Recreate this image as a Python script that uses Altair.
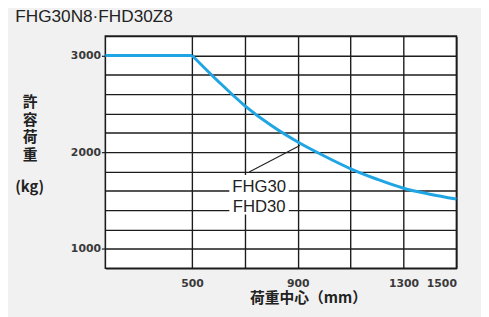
import altair as alt
import pandas as pd

# ---- data ----
DIST_FLAT = [172, 500]
LOAD_FLAT = [3000, 3000]
DIST = [500, 600, 700, 800, 900, 1000, 1100, 1200, 1300, 1400, 1500]
LOAD = [3000, 2730, 2480, 2275, 2105, 1960, 1828, 1720, 1627, 1565, 1515]

X_GRID = [500, 700, 900, 1100, 1300, 1500]
X_LABELS = [500, 900, 1300, 1500]
Y_GRID = [800, 1000, 1200, 1400, 1600, 1800, 2000, 2200, 2400, 2600, 2800, 3000, 3200]
Y_LABELS = [1000, 2000, 3000]

LABEL_TEXT = ["FHG30", "FHD30"]
LABEL_X = [754, 754]
LABEL_Y = [1592, 1378]
LEADER_X = [716, 908]
LEADER_Y = [1796, 2068]
BOX_X = [641, 866]
BOX_Y = [1356, 1763]

UNIT_TEXT = ["(kg)"]

X_DOMAIN = [172, 1500]
Y_DOMAIN = [800, 3200]

flat_df = pd.DataFrame({"d": DIST_FLAT, "w": LOAD_FLAT})
curve_df = pd.DataFrame({"d": DIST, "w": LOAD})
label_df = pd.DataFrame({"t": LABEL_TEXT, "d": LABEL_X, "w": LABEL_Y})
leader_df = pd.DataFrame({"d": LEADER_X, "w": LEADER_Y})
box_df = pd.DataFrame({"d": [BOX_X[0]], "d2": [BOX_X[1]], "w": [BOX_Y[0]], "w2": [BOX_Y[1]]})
unit_df = pd.DataFrame({"t": UNIT_TEXT})

xlabel_expr = "indexof([" + ",".join(str(v) for v in X_LABELS) + "], datum.value) >= 0 ? datum.value : ''"
ylabel_expr = "indexof([" + ",".join(str(v) for v in Y_LABELS) + "], datum.value) >= 0 ? datum.value : ''"

LINE_COLOR = "#1c1c1c"
CURVE_COLOR = "#1fa5e3"

x_scale = alt.Scale(domain=X_DOMAIN, nice=False, zero=False)
y_scale = alt.Scale(domain=Y_DOMAIN, nice=False, zero=False)

x_axis = alt.Axis(
    values=X_GRID,
    labelExpr=xlabel_expr,
    grid=True,
    gridColor=LINE_COLOR,
    gridWidth=1.4,
    gridOpacity=1,
    ticks=False,
    tickSize=0,
    domain=False,
    labelPadding=10,
    labelFont="DejaVu Sans",
    labelFontSize=11,
    labelFontWeight="bold",
    labelColor="#3a3a3a",
    labelOverlap=False,
    title="荷重中心（mm）",
    titleFont="Noto Sans CJK JP",
    titleFontSize=15,
    titleFontWeight="bold",
    titleColor="#222222",
    titleX=206,
    titleY=30,
    titleBaseline="middle",
    titleAnchor="start",
    titleAlign="center",
)

y_axis = alt.Axis(
    values=Y_GRID,
    labelExpr=ylabel_expr,
    grid=True,
    gridColor=LINE_COLOR,
    gridWidth=1.4,
    gridOpacity=1,
    ticks=True,
    tickSize=4,
    tickColor=LINE_COLOR,
    tickWidth=1.2,
    tickOpacity={"condition": {"test": "datum.value % 1000 == 0", "value": 1}, "value": 0},
    domain=False,
    labelPadding=1,
    labelFont="DejaVu Sans",
    labelFontSize=11,
    labelFontWeight="bold",
    labelColor="#3a3a3a",
    labelOverlap=False,
    title=["許", "容", "荷", "重"],
    titleFont="Noto Sans CJK JP",
    titleFontSize=15,
    titleFontWeight="bold",
    titleColor="#222222",
    titleAngle=0,
    titleAlign="center",
    titleBaseline="top",
    titleLineHeight=17.7,
    titleX=-77,
    titleY=60,
    titleAnchor="start",
)

X = alt.X("d:Q", scale=x_scale, axis=x_axis)
Y = alt.Y("w:Q", scale=y_scale, axis=y_axis)

flat = alt.Chart(flat_df).mark_line(color=CURVE_COLOR, strokeWidth=3).encode(x=X, y=Y)
curve = alt.Chart(curve_df).mark_line(color=CURVE_COLOR, strokeWidth=3, interpolate="monotone").encode(x=X, y=Y)

box = alt.Chart(box_df).mark_rect(color="white").encode(x=X, x2="d2:Q", y=Y, y2="w2:Q")

leader = alt.Chart(leader_df).mark_line(color="#222222", strokeWidth=1.1).encode(x=X, y=Y)

labels = alt.Chart(label_df).mark_text(
    font="Liberation Sans", fontSize=17, color="#222222", align="center", baseline="alphabetic"
).encode(x=X, y=Y, text="t:N")

unit = alt.Chart(unit_df).mark_text(
    font="Noto Sans CJK JP", fontSize=15, fontWeight="bold", color="#222222",
    align="center", baseline="middle"
).encode(x=alt.value(-77), y=alt.value(154), text="t:N")

chart = alt.layer(flat, curve, box, leader, labels, unit).properties(
    width=357,
    height=236,
    autosize=alt.AutoSizeParams(type="none"),
    padding={"left": 99, "top": 26, "right": 25, "bottom": 47},
    background="#f1f1f1",
    title=alt.TitleParams(
        "FHG30N8·FHD30Z8",
        anchor="start",
        font="Liberation Sans",
        fontSize=17.5,
        fontWeight="normal",
        color="#222222",
        offset=5,
    ),
).configure_view(fill="white", stroke=LINE_COLOR, strokeWidth=1.6)

chart.save("out.html", embed_options={"renderer": "svg", "actions": False})
